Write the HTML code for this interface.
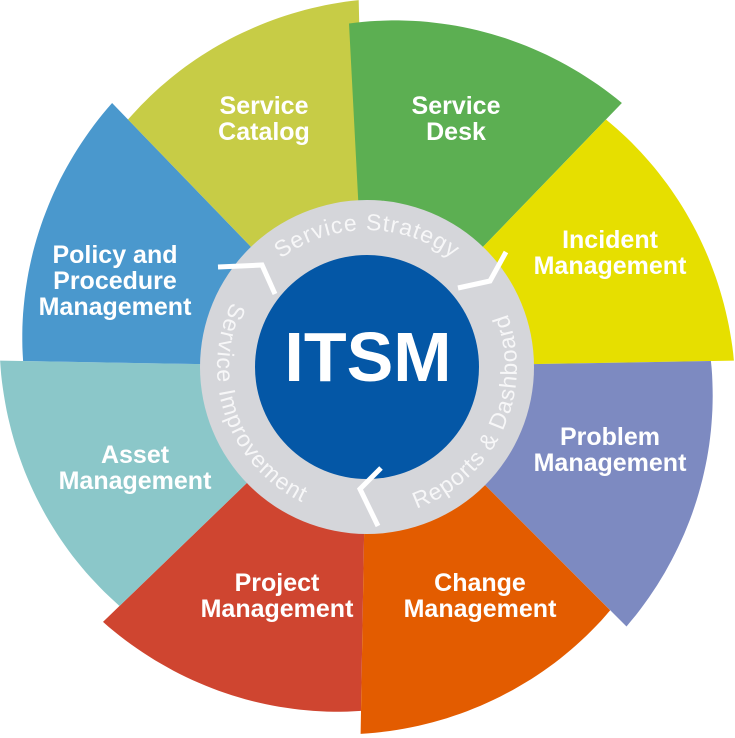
<!DOCTYPE html>
<html><head><meta charset="utf-8"><style>
html,body{margin:0;padding:0;background:#fff;}
svg{display:block;}
.l{font-family:"Liberation Sans",sans-serif;font-weight:bold;font-size:25px;fill:#fff;text-anchor:middle;}
.r{font-family:"Liberation Sans",sans-serif;font-size:23px;fill:#f7f7f8;letter-spacing:1px;}
</style></head><body>
<svg id="s" width="735" height="738" viewBox="0 0 735 738" xmlns="http://www.w3.org/2000/svg">
<g id="segs"></g>
<circle cx="367" cy="367" r="167" fill="#d5d6da"/>
<circle cx="367" cy="367" r="112" fill="#0457a6"/>
<g fill="none" stroke="#fff" stroke-width="5" stroke-linejoin="miter">
<polyline points="218,267 262,265 275,294"/>
<polyline points="458,288 490,281 506,252"/>
<polyline points="381,468 360,489 378,526"/>
</g>
<defs>
<path id="pTop2" d="M 256.7 281.6 A 144 144 0 0 1 477.3 281.6"/>
<path id="pLeft" d="M 232.2 301.3 A 150 150 0 0 0 303.6 503" />
<path id="pRight" d="M 419.2 507.5 A 150 150 0 0 0 507.9 315.7"/>
</defs>
<text class="r"><textPath href="#pTop2" startOffset="50%" text-anchor="middle">Service Strategy</textPath></text>
<text class="r"><textPath href="#pLeft" startOffset="50%" text-anchor="middle">Service Improvement</textPath></text>
<text class="r"><textPath href="#pRight" startOffset="50%" text-anchor="middle">Reports &amp; Dashboard</textPath></text>
<text x="368" y="381" font-family="Liberation Sans,sans-serif" font-weight="bold" font-size="70" fill="#fff" text-anchor="middle">ITSM</text>
<text class="l" x="264" y="114">Service</text><text class="l" x="264" y="140">Catalog</text>
<text class="l" x="456" y="114">Service</text><text class="l" x="456" y="140">Desk</text>
<text class="l" x="610" y="248">Incident</text><text class="l" x="610" y="274">Management</text>
<text class="l" x="610" y="445">Problem</text><text class="l" x="610" y="471">Management</text>
<text class="l" x="480" y="591">Change</text><text class="l" x="480" y="617">Management</text>
<text class="l" x="277" y="591">Project</text><text class="l" x="277" y="617">Management</text>
<text class="l" x="135" y="463">Asset</text><text class="l" x="135" y="489">Management</text>
<text class="l" x="115" y="263">Policy and</text><text class="l" x="115" y="289">Procedure</text><text class="l" x="115" y="315">Management</text>
</svg>
<script>
(function(){
var cx=367,cy=367;
var segs=[
 [91,136,"#cf4530"],
 [136,181,"#8bc7c9"],
 [181,226,"#4a98cd"],
 [226,268.7,"#c7cc46"],
 [-93,-46,"#5caf52"],
 [-46,-1,"#e6df00"],
 [-1,45,"#7d8ac1"],
 [45,91,"#e35c00"]
];
var g=document.getElementById("segs"),h="";
segs.forEach(function(s){
 var a0=s[0],a1=s[1],n=40,pts=[];
 for(var i=0;i<=n;i++){var a=a0+(a1-a0)*i/n,r=344+23*i/n,t=a*Math.PI/180;pts.push((cx+r*Math.cos(t)).toFixed(1)+","+(cy+r*Math.sin(t)).toFixed(1));}
 var ri=150;
 for(var i=n;i>=0;i--){var a=a0+(a1-a0)*i/n,t=a*Math.PI/180;pts.push((cx+ri*Math.cos(t)).toFixed(1)+","+(cy+ri*Math.sin(t)).toFixed(1));}
 h+='<polygon points="'+pts.join(" ")+'" fill="'+s[2]+'"/>';
});
g.innerHTML=h;
})();
</script>
</body></html>
